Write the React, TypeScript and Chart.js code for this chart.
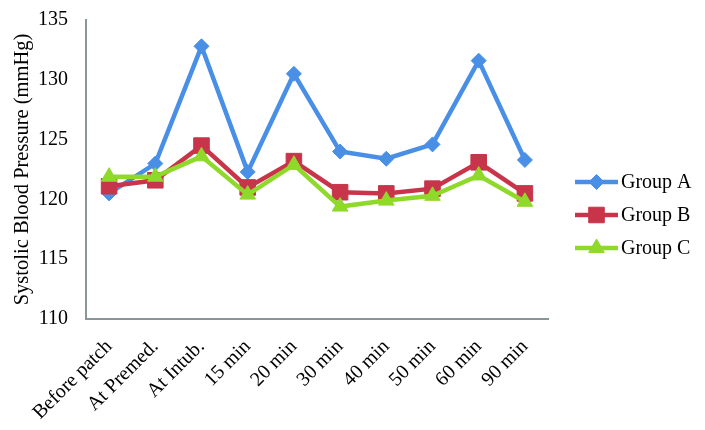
import React, { useEffect, useRef } from "react";
import { Chart, registerables } from "chart.js";
import { drawPoint } from "chart.js/helpers";

Chart.register(...registerables);

const categories = ["Before patch", "At Premed.", "At Intub.", "15 min", "20 min", "30 min", "40 min", "50 min", "60 min", "90 min"];
const groupA = [120.5, 123.0, 132.8, 122.3, 130.5, 124.0, 123.4, 124.6, 131.6, 123.3];
const groupB = [121.1, 121.6, 124.5, 121.0, 123.2, 120.6, 120.5, 120.9, 123.1, 120.5];
const groupC = [121.9, 121.9, 123.6, 120.4, 122.9, 119.4, 119.9, 120.3, 122.0, 119.8];
const seriesNames = ["Group A", "Group B", "Group C"];
const yTitle = "Systolic Blood Pressure (mmHg)";

const COLORS = ["#4A8FE6", "#C8344A", "#8FD92B"];
const STYLES = ["rectRot", "rect", "triangle"];
const RADII = [7.5, 11, 9];
const FONT = "'Liberation Serif', 'Times New Roman', serif";

const legendPlugin = {
  id: "customLegend",
  afterDraw(chart: any) {
    const ctx = chart.ctx;
    const area = chart.chartArea;
    const x0 = area.right + 27;
    const lineLen = 43;
    const cy = chart.height / 2;
    const gap = 33;
    chart.data.datasets.forEach((ds: any, i: number) => {
      const y = cy + (i - 1) * gap;
      ctx.save();
      ctx.strokeStyle = ds.borderColor;
      ctx.lineWidth = ds.borderWidth;
      ctx.beginPath();
      ctx.moveTo(x0, y);
      ctx.lineTo(x0 + lineLen, y);
      ctx.stroke();
      ctx.fillStyle = ds.backgroundColor;
      ctx.strokeStyle = ds.borderColor;
      ctx.lineWidth = 1;
      drawPoint(ctx, { pointStyle: ds.pointStyle, radius: ds.pointRadius, borderWidth: 1, rotation: 0 } as any, x0 + lineLen / 2, y);
      ctx.fillStyle = "#000";
      ctx.font = `20px ${FONT}`;
      ctx.textBaseline = "middle";
      ctx.textAlign = "left";
      ctx.fillText(ds.label, x0 + lineLen + 3, y + 1);
      ctx.restore();
    });
  },
};

export default function App() {
  const ref = useRef<HTMLCanvasElement | null>(null);
  useEffect(() => {
    if (!ref.current) return;
    const values = [groupA, groupB, groupC];
    const chart = new Chart(ref.current, {
      type: "line",
      data: {
        labels: categories,
        datasets: values.map((v, i) => ({
          label: seriesNames[i],
          data: v,
          borderColor: COLORS[i],
          backgroundColor: COLORS[i],
          borderWidth: 4.5,
          pointStyle: STYLES[i] as any,
          pointRadius: RADII[i],
          pointBorderWidth: 1,
          tension: 0,
          order: 3 - i,
        })),
      },
      options: {
        animation: false,
        responsive: false,
        layout: { padding: { left: 0, right: 149, top: 12, bottom: 0 } },
        plugins: { legend: { display: false }, tooltip: { enabled: false } },
        scales: {
          x: {
            offset: true,
            grid: { display: false, drawTicks: false, tickLength: 0 },
            border: { display: true, color: "#8A9598", width: 2 },
            ticks: {
              autoSkip: false,
              maxRotation: 45,
              minRotation: 45,
              color: "#000",
              padding: 16,
              font: { family: FONT, size: 20 },
            },
            afterFit(scale: any) {
              scale.height = 103;
              scale.paddingLeft = 0;
              scale.paddingRight = 0;
              scale.paddingTop = 0;
              scale.paddingBottom = 0;
            },
          },
          y: {
            min: 110,
            max: 135,
            grid: { display: false, drawTicks: false, tickLength: 0 },
            border: { display: true, color: "#8A9598", width: 2 },
            ticks: {
              stepSize: 5,
              color: "#000",
              padding: 18,
              font: { family: FONT, size: 20 },
            },
            title: {
              display: true,
              text: yTitle,
              color: "#000",
              font: { family: FONT, size: 20.5 },
              padding: { top: 2, bottom: 4 },
            },
            afterFit(scale: any) {
              scale.width = 78;
              scale.paddingLeft = 0;
              scale.paddingRight = 0;
              scale.paddingTop = 0;
              scale.paddingBottom = 0;
            },
          },
        },
      },
      plugins: [legendPlugin],
    });
    return () => chart.destroy();
  }, []);
  return (
    <div style={{ width: 689, height: 414 }}>
      <canvas ref={ref} width={689} height={414} style={{ width: 689, height: 414 }} />
    </div>
  );
}
